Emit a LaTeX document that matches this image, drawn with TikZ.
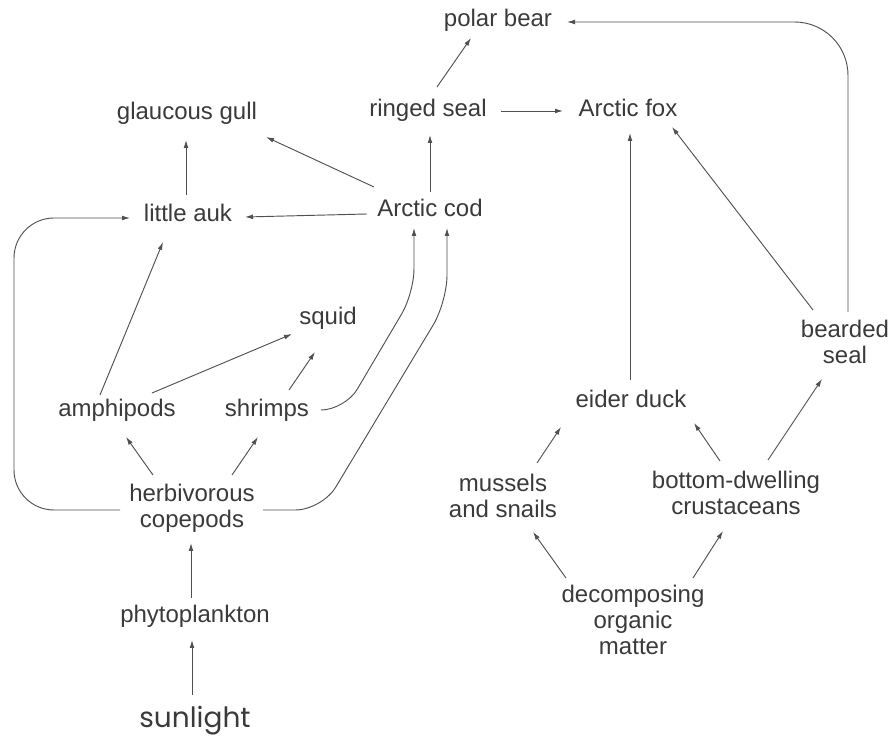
\documentclass[tikz,border=0pt]{standalone}
\usepackage{fontspec}
\setmainfont{Liberation Sans}
\newfontfamily\sunfont{Poppins}
\usetikzlibrary{arrows.meta,calc}
\definecolor{ink}{HTML}{3A3A3A}
\definecolor{linec}{HTML}{505050}
\tikzset{
  multi/.style={inner sep=0pt, text=ink, align=center, font=\fontsize{18}{19.5}\selectfont},
  lbl/.style={multi, text height=0.8em, text depth=0.14em},
  arr/.style={draw=linec, line width=0.7pt, -{Latex[length=6pt,width=3.6pt]}}
}
\begin{document}
\begin{tikzpicture}[x=0.75pt,y=-0.75pt]
\useasboundingbox (0,0) rectangle (894,737);
% nodes
\node[lbl] (bear) at (498,22) {polar bear};
\node[lbl] (ringed) at (428,112) {ringed seal};
\node[lbl] (fox) at (628,112) {Arctic fox};
\node[lbl] (gull) at (187,115) {glaucous gull};
\node[lbl] (auk) at (188,217) {little auk};
\node[lbl] (cod) at (430,212) {Arctic cod};
\node[lbl] (squid) at (328,320) {squid};
\node[lbl] (amph) at (117,412) {amphipods};
\node[lbl] (shrimp) at (267,412) {shrimps};
\node[multi] (herb) at (192,508) {herbivorous\\copepods};
\node[lbl] (phyto) at (195,618) {phytoplankton};
\node[lbl, font=\sunfont\fontsize{21}{22}\selectfont] (sun) at (195,723) {sunlight};
\node[lbl] (eider) at (631,403) {eider duck};
\node[multi] (mussels) at (503,496) {mussels\\and snails};
\node[multi] (crust) at (736,493) {bottom-dwelling\\crustaceans};
\node[multi] (decomp) at (633,620) {decomposing\\organic\\matter};
\node[multi] (bearded) at (845,342) {bearded\\seal};
% connectors
\draw[arr] ($(ringed)+(9,-25)$) -- ($(bear)+(-27,16)$);
\draw[arr] ($(ringed)+(73,-1)$) -- ($(fox)+(-65,-1)$);
\draw[arr] ($(cod)+(0,-20)$) -- ($(ringed)+(2,23)$);
\draw[arr] ($(cod)+(-56,-25)$) -- ($(gull)+(79,22)$);
\draw[arr] ($(auk)+(-2,-22)$) -- ($(gull)+(-1,25)$);
\draw[arr] ($(cod)+(-63,2)$) -- ($(auk)+(57,0)$);
\draw[arr, rounded corners=30] ($(herb)+(-72,2)$) -- ($(herb)+(-178,2)$) |- ($(auk)+(-58,1)$);
\draw[arr] ($(amph)+(-17,-17)$) -- ($(auk)+(-25,25)$);
\draw[arr] ($(amph)+(35,-19)$) -- ($(squid)+(-36,14)$);
\draw[arr] ($(shrimp)+(22,-22)$) -- ($(squid)+(-13,32)$);
\draw[arr] ($(herb)+(-39,-33)$) -- ($(amph)+(9,25)$);
\draw[arr] ($(herb)+(40,-33)$) -- ($(shrimp)+(-9,25)$);
\draw[arr, rounded corners=18] ($(shrimp)+(56,-2)$) -- ($(shrimp)+(78,-2)$) -- ($(cod)+(-16,81)$) -- ($(cod)+(-16,16)$);
\draw[arr, rounded corners=20] ($(herb)+(71,2)$) -- ($(herb)+(130,2)$) -- ($(cod)+(17,90)$) -- ($(cod)+(17,16)$);
\draw[arr, rounded corners=40] ($(bearded)+(3,-30)$) |- ($(bear)+(69,0)$);
\draw[arr] ($(bearded)+(-32,-32)$) -- ($(fox)+(44,15)$);
\draw[arr] ($(eider)+(-1,-23)$) -- ($(fox)+(2,21)$);
\draw[arr] ($(mussels)+(34,-33)$) -- ($(eider)+(-70,24)$);
\draw[arr] ($(crust)+(-16,-32)$) -- ($(eider)+(63,20)$);
\draw[arr] ($(crust)+(32,-33)$) -- ($(bearded)+(-23,37)$);
\draw[arr] ($(decomp)+(-67,-42)$) -- ($(mussels)+(30,36)$);
\draw[arr] ($(decomp)+(60,-42)$) -- ($(crust)+(-13,38)$);
\draw[arr] ($(phyto)+(-4,-20)$) -- ($(herb)+(-1,35)$);
\draw[arr] ($(sun)+(-3,-28)$) -- ($(phyto)+(-3,22)$);
\end{tikzpicture}
\end{document}
